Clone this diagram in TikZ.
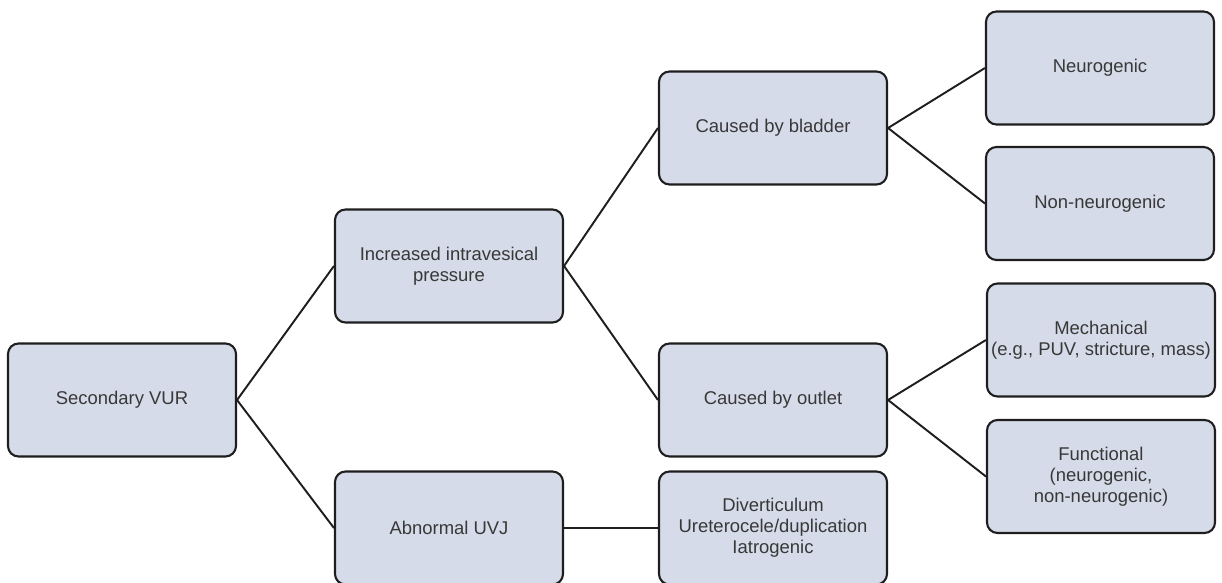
\documentclass[tikz,border=0pt]{standalone}
\usepackage{fontspec}
\setmainfont{Liberation Sans}
\usepackage{xcolor}
\usetikzlibrary{arrows.meta}

\definecolor{boxfill}{HTML}{D5DBE8}
\definecolor{boxline}{HTML}{1E1E1E}
\definecolor{boxtext}{HTML}{383838}

\begin{document}
\begin{tikzpicture}[
  font=\fontsize{10.5}{12}\selectfont,
  box/.style={draw=boxline, line width=1.2pt, rounded corners=6pt,
              fill=boxfill, text=boxtext, minimum width=4.56cm,
              minimum height=2.26cm, align=center, inner xsep=1pt},
  link/.style={draw=boxline, line width=1.1pt},
]
\useasboundingbox (0,0) rectangle (24.44,11.66);

% ---- Root ----
\node[box] (vur) at (2.44, 3.66) {Secondary VUR};

% ---- Second level ----
\node[box] (pres) at (8.98, 6.34) {Increased intravesical\\pressure};
\node[box] (uvj)  at (8.98, 1.10) {Abnormal UVJ};

% ---- Third level ----
\node[box] (blad) at (15.46, 9.10) {Caused by bladder};
\node[box] (outl) at (15.46, 3.66) {Caused by outlet};
\node[box] (divt) at (15.46, 1.10) {Diverticulum\\Ureterocele/duplication\\Iatrogenic};

% ---- Leaves ----
\node[box] (neur) at (22.00, 10.30) {Neurogenic};
\node[box] (nonn) at (22.00, 7.59)  {Non-neurogenic};
\node[box] (mech) at (22.02, 4.86)  {Mechanical\\(e.g., PUV, stricture, mass)};
\node[box] (func) at (22.02, 2.13)  {Functional\\(neurogenic,\\non-neurogenic)};

% Connectors, right side of parent to left side of child
\foreach \a/\b in {vur/pres, vur/uvj, pres/blad, pres/outl, uvj/divt,
                   blad/neur, blad/nonn, outl/mech, outl/func}
  \draw[link] (\a.east) -- (\b.west);
\end{tikzpicture}
\end{document}
